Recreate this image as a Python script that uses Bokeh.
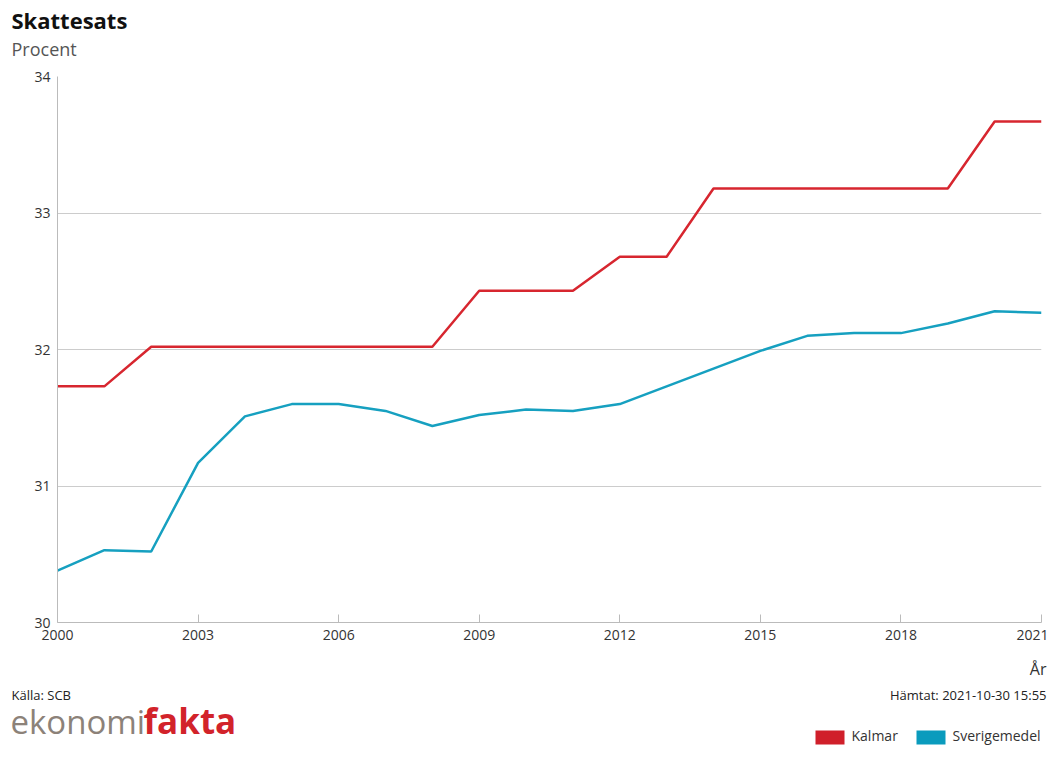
from bokeh.plotting import figure
from bokeh.models import Label, FixedTicker, Range1d
from bokeh.layouts import column
from bokeh.embed import file_html
from bokeh.resources import INLINE

years = list(range(2000, 2022))
kalmar = [31.73, 31.73, 32.02, 32.02, 32.02, 32.02, 32.02, 32.02, 32.02, 32.43, 32.43,
          32.43, 32.68, 32.68, 33.18, 33.18, 33.18, 33.18, 33.18, 33.18, 33.67, 33.67]
sverige = [30.38, 30.53, 30.52, 31.17, 31.51, 31.60, 31.60, 31.55, 31.44, 31.52, 31.56,
           31.55, 31.60, 31.73, 31.86, 31.99, 32.10, 32.12, 32.12, 32.19, 32.28, 32.27]
x_ticks = [2000, 2003, 2006, 2009, 2012, 2015, 2018, 2021]
y_ticks = [30, 31, 32, 33, 34]
series_names = ["Kalmar", "Sverigemedel"]
line_colors = ["#d7262f", "#16a0c0"]
legend_colors = ["#d01f2a", "#0a9bbd"]

FONT = "Open Sans"
W = 1048
HEAD_H, MAIN_H, FOOT_H = 66, 590, 90


def blank(h):
    f = figure(width=W, height=h, output_backend="svg", toolbar_location=None,
               x_range=Range1d(0, W), y_range=Range1d(h, 0),
               x_axis_type=None, y_axis_type=None, frame_align=False,
               min_border=0, min_border_left=0, min_border_right=0,
               min_border_top=0, min_border_bottom=0)
    f.outline_line_color = None
    f.grid.visible = False
    f.background_fill_color = "white"
    f.border_fill_color = "white"
    return f


def lab(f, text, x, base, size, color="#333333", align="left", style="normal"):
    # 'base' is the wanted baseline; anchor is shifted to compensate renderer offset
    px = float(size.replace("px", ""))
    f.add_layout(Label(x=x, y=base - 0.46 * px, text=text, text_font=FONT,
                       text_font_size=size, text_color=color, text_align=align,
                       text_baseline="alphabetic", text_font_style=style))


# ---- header
head = blank(HEAD_H)
lab(head, "Skattesats", 11, 30, "22px", "#111111", style="bold")
lab(head, "Procent", 11, 57, "18px", "#555555")

# ---- main chart
p = figure(width=W, height=MAIN_H, output_backend="svg", toolbar_location=None,
           x_range=Range1d(2000, 2021), y_range=Range1d(30, 34), frame_align=False,
           min_border_left=57, min_border_right=7, min_border_top=10,
           min_border_bottom=34)
p.outline_line_color = None
p.background_fill_color = "white"
p.border_fill_color = "white"
p.xgrid.grid_line_color = None
p.ygrid.grid_line_color = "#cccccc"
p.ygrid.ticker = FixedTicker(ticks=y_ticks)
p.xaxis.ticker = FixedTicker(ticks=x_ticks)
p.yaxis.ticker = FixedTicker(ticks=y_ticks)
for ax in (p.xaxis[0], p.yaxis[0]):
    ax.axis_line_color = "#bbbbbb"
    ax.major_label_text_font = FONT
    ax.major_label_text_font_size = "14px"
    ax.major_label_text_color = "#333333"
    ax.minor_tick_line_color = None
p.xaxis.major_tick_in = 8
p.xaxis.major_tick_out = 0
p.xaxis.major_tick_line_color = "#bbbbbb"
p.xaxis.major_label_standoff = 7
p.yaxis.major_tick_line_color = None
p.yaxis.major_label_standoff = 1

p.line(years, kalmar, line_color=line_colors[0], line_width=2.5)
p.line(years, sverige, line_color=line_colors[1], line_width=2.5)

# ---- footer (y measured from footer top; footer starts at page y=656)
foot = blank(FOOT_H)
lab(foot, "År", 1046, 20, "16px", "#333333", align="right")
lab(foot, "Källa: SCB", 11, 44, "13px", "#222222")
lab(foot, "Hämtat: 2021-10-30 15:55", 1046, 44, "13px", "#222222", align="right")
lab(foot, "ekonomi", 10, 80, "33px", "#8c8279")
lab(foot, "fakta", 143, 80, "35px", "#d2232a", style="bold")

sw_left = [815, 916]
foot.quad(left=sw_left, right=[x + 29 for x in sw_left], top=[74, 74], bottom=[88, 88],
          fill_color=legend_colors, line_color=None)
for name, x in zip(series_names, sw_left):
    lab(foot, name, x + 36, 85, "14px", "#333333")

layout = column(head, p, foot, spacing=0)
open("out.html", "w").write(file_html(layout, INLINE))
